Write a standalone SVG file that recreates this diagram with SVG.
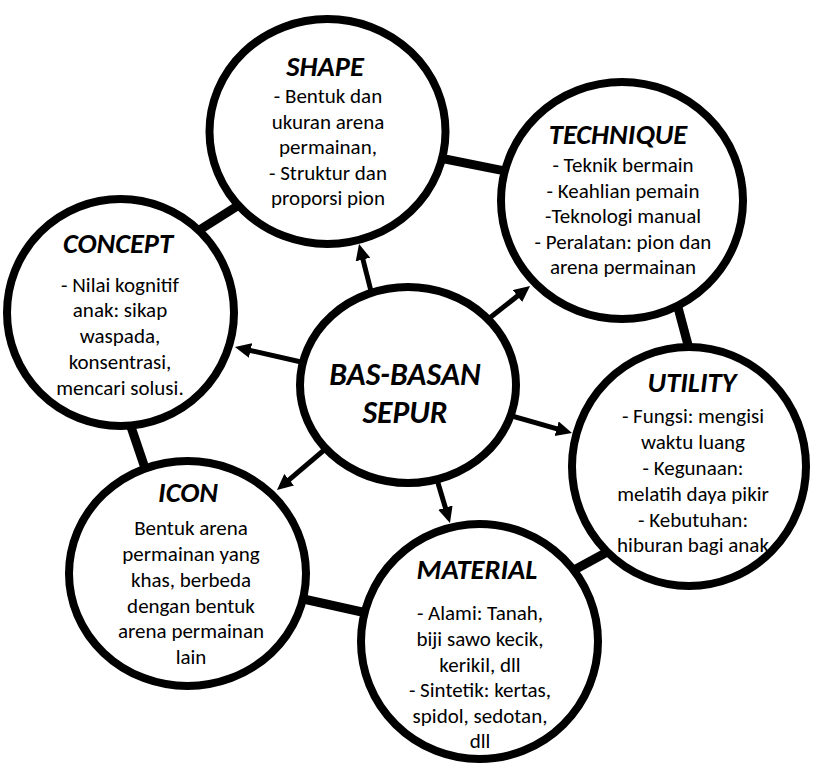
<svg xmlns="http://www.w3.org/2000/svg" width="817" height="772" viewBox="0 0 817 772">
<style>
.node{fill:#fff;stroke:#000;stroke-width:8}
.ring{stroke:#000;stroke-width:9;fill:none}
.arr{stroke:#000;stroke-width:5;fill:none}
text{font-family:Carlito,Calibri,Lato,"Liberation Sans",sans-serif;fill:#000;text-anchor:middle}
.t{font-size:28.5px;font-weight:bold;font-style:italic}
.b{font-size:21px}
.c{font-size:31.5px;font-weight:bold;font-style:italic}
</style>
<defs>
<marker id="ah" markerUnits="userSpaceOnUse" markerWidth="18" markerHeight="16" refX="6" refY="7.5" orient="auto">
<path d="M0,0 L16,7.5 L0,15 z" fill="#000"/>
</marker>
</defs>
<rect width="817" height="772" fill="#fff"/>
<g id="connectors">
<line class="ring" x1="430" y1="156" x2="520" y2="174"/>
<line class="ring" x1="190" y1="236" x2="250" y2="198"/>
<line class="ring" x1="128" y1="418" x2="147" y2="474"/>
<line class="ring" x1="290" y1="596" x2="380" y2="616"/>
<line class="ring" x1="565" y1="575" x2="620" y2="545"/>
<line class="ring" x1="676" y1="300" x2="692" y2="360"/>
<line class="arr" x1="372.5" y1="297" x2="361.5" y2="253.7" marker-end="url(#ah)"/>
<line class="arr" x1="482" y1="324" x2="522.2" y2="292.3" marker-end="url(#ah)"/>
<line class="arr" x1="310" y1="364" x2="244.7" y2="349.2" marker-end="url(#ah)"/>
<line class="arr" x1="505" y1="414" x2="562.4" y2="430.3" marker-end="url(#ah)"/>
<line class="arr" x1="330" y1="445" x2="284.6" y2="483.6" marker-end="url(#ah)"/>
<line class="arr" x1="435" y1="473" x2="447.1" y2="513.4" marker-end="url(#ah)"/>
</g>
<g id="center">
<ellipse class="node" cx="408" cy="385" rx="108" ry="98"/>
<text class="c" x="405" y="385">BAS-BASAN</text>
<text class="c" x="405" y="423">SEPUR</text>
</g>
<g id="shape">
<ellipse class="node" cx="327.5" cy="131.5" rx="118" ry="112.5"/>
<text class="t" x="325" y="76">SHAPE</text>
<text class="b" x="328" y="103">- Bentuk dan</text>
<text class="b" x="328" y="128.5">ukuran arena</text>
<text class="b" x="328" y="154">permainan,</text>
<text class="b" x="328" y="180">- Struktur dan</text>
<text class="b" x="328" y="205">proporsi pion</text>
</g>
<g id="technique">
<ellipse class="node" cx="622" cy="200.5" rx="121" ry="118.5"/>
<text class="t" x="618" y="144">TECHNIQUE</text>
<text class="b" x="623" y="172">- Teknik bermain</text>
<text class="b" x="623" y="198">- Keahlian pemain</text>
<text class="b" x="623" y="223">-Teknologi manual</text>
<text class="b" x="623" y="249">- Peralatan: pion dan</text>
<text class="b" x="623" y="274">arena permainan</text>
</g>
<g id="concept">
<ellipse class="node" cx="120.5" cy="312.5" rx="113.5" ry="113.5"/>
<text class="t" x="118" y="253">CONCEPT</text>
<text class="b" x="120" y="292">- Nilai kognitif</text>
<text class="b" x="120" y="317">anak: sikap</text>
<text class="b" x="120" y="343">waspada,</text>
<text class="b" x="120" y="369">konsentrasi,</text>
<text class="b" x="120" y="395">mencari solusi.</text>
</g>
<g id="utility">
<ellipse class="node" cx="689" cy="466.5" rx="117" ry="119.5"/>
<text class="t" x="692" y="392">UTILITY</text>
<text class="b" x="693" y="423">- Fungsi: mengisi</text>
<text class="b" x="693" y="449">waktu luang</text>
<text class="b" x="693" y="475">- Kegunaan:</text>
<text class="b" x="693" y="501">melatih daya pikir</text>
<text class="b" x="693" y="527">- Kebutuhan:</text>
<text class="b" x="693" y="552">hiburan bagi anak</text>
</g>
<g id="icon">
<ellipse class="node" cx="187.5" cy="573.5" rx="118.5" ry="112.5"/>
<text class="t" x="188" y="502">ICON</text>
<text class="b" x="191" y="535">Bentuk arena</text>
<text class="b" x="191" y="561">permainan yang</text>
<text class="b" x="191" y="587">khas, berbeda</text>
<text class="b" x="191" y="613">dengan bentuk</text>
<text class="b" x="191" y="638">arena permainan</text>
<text class="b" x="191" y="664">lain</text>
</g>
<g id="material">
<ellipse class="node" cx="479.5" cy="641.5" rx="118.5" ry="117.5"/>
<text class="t" x="477" y="579">MATERIAL</text>
<text class="b" x="480" y="620">- Alami: Tanah,</text>
<text class="b" x="480" y="646">biji sawo kecik,</text>
<text class="b" x="480" y="672">kerikil, dll</text>
<text class="b" x="480" y="697">- Sintetik: kertas,</text>
<text class="b" x="480" y="723">spidol, sedotan,</text>
<text class="b" x="480" y="748">dll</text>
</g>
</svg>
